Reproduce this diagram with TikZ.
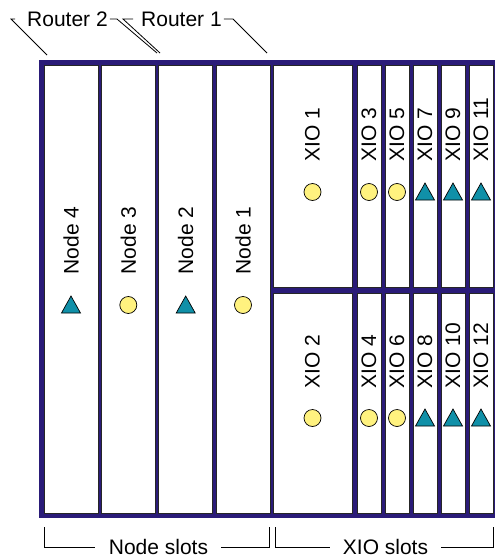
\documentclass[tikz,border=0pt]{standalone}
\usepackage{fontspec}
\setmainfont{Liberation Sans}
\definecolor{chassis}{HTML}{2A1B78}
\definecolor{dotfill}{HTML}{FFF27F}
\definecolor{tipfill}{HTML}{1090A8}
\newcommand{\slotcard}[7]{%
  \node[card, minimum width=#4pt, minimum height=#5pt] (#1) at (#2,#3) {};
  \node[cardtext] (#1txt) at (#2,#7) {#6};%
}
\newcommand{\dotmark}[2]{%
  \filldraw[fill=dotfill, draw=black, line width=0.7pt] (#1,#2) circle (8.5pt);%
}
\newcommand{\tipmark}[2]{%
  \filldraw[fill=tipfill, draw=black, line width=0.7pt] (#1,#2) ++(0,-9) -- ++(9.5,17) -- ++(-19,0) -- cycle;%
}

\begin{document}
\begin{tikzpicture}[x=1pt, y=-1pt, font=\fontsize{21}{24}\selectfont]
    \tikzset{card/.style={draw=black!85, fill=white, line width=0.9pt, inner sep=0pt},
      cardtext/.style={rotate=90, anchor=west, inner sep=0pt},
      lead/.style={draw=black, line width=0.8pt},
      tag/.style={inner sep=0pt}}
    \useasboundingbox (0,0) rectangle (495,560);

    \fill[chassis] (39,59.5) rectangle (498,517.5);

    % node slots
    \slotcard{node4}{71}{289}{54}{448}{Node 4}{274.5}
    \slotcard{node3}{128.3}{289}{54}{448}{Node 3}{274.5}
    \slotcard{node2}{185.7}{289}{54}{448}{Node 2}{274.5}
    \slotcard{node1}{243}{289}{54}{448}{Node 1}{274.5}
    \tipmark{71}{305}
    \dotmark{128.3}{305}
    \tipmark{185.7}{305}
    \dotmark{243}{305}

    % xio slots
    \slotcard{xio1}{312.5}{176}{79}{222}{XIO 1}{161.5}
    \slotcard{xio3}{369}{176}{24}{222}{XIO 3}{161.5}
    \slotcard{xio5}{397}{176}{24}{222}{XIO 5}{161.5}
    \slotcard{xio7}{425}{176}{24}{222}{XIO 7}{161.5}
    \slotcard{xio9}{453}{176}{24}{222}{XIO 9}{161.5}
    \slotcard{xio11}{481}{176}{24}{222}{XIO 11}{161.5}
    \slotcard{xio2}{312.5}{403}{79}{220}{XIO 2}{388.5}
    \slotcard{xio4}{369}{403}{24}{220}{XIO 4}{388.5}
    \slotcard{xio6}{397}{403}{24}{220}{XIO 6}{388.5}
    \slotcard{xio8}{425}{403}{24}{220}{XIO 8}{388.5}
    \slotcard{xio10}{453}{403}{24}{220}{XIO 10}{388.5}
    \slotcard{xio12}{481}{403}{24}{220}{XIO 12}{388.5}
    \dotmark{312.5}{192} \dotmark{369}{192} \dotmark{397}{192}
    \tipmark{425}{192} \tipmark{453}{192} \tipmark{481}{192}
    \dotmark{312.5}{418} \dotmark{369}{418} \dotmark{397}{418}
    \tipmark{425}{418} \tipmark{453}{418} \tipmark{481}{418}

    % routers
    \node[tag, anchor=west] (rtwo) at (27,19) {Router 2};
    \node[tag, anchor=west] (rone) at (141,19) {Router 1};
    \coordinate (r2l) at (47,55);
    \coordinate (r2r) at (157,53);
    \coordinate (r1l) at (160,53);
    \coordinate (r1r) at (267,53);
    \draw[lead] ([xshift=-12pt]rtwo.west) -- ([xshift=-16pt]rtwo.west) -- (r2l);
    \draw[lead] ([xshift=2pt]rtwo.east) -- ([xshift=9pt]rtwo.east) -- (r2r);
    \draw[lead] ([xshift=-8pt]rone.west) -- ([xshift=-18pt]rone.west) -- (r1l);
    \draw[lead] ([xshift=2pt]rone.east) -- ([xshift=11pt]rone.east) -- (r1r);

    % slot brackets
    \node[tag] (nslots) at (158.5,547) {Node slots};
    \node[tag] (xslots) at (385.5,547) {XIO slots};
    \coordinate (nsl) at (44,527);
    \coordinate (nsr) at (269,527);
    \coordinate (xsl) at (275,527);
    \coordinate (xsr) at (493,527);
    \draw[lead] ([xshift=-14pt]nslots.west) -| (nsl);
    \draw[lead] ([xshift=13pt]nslots.east) -| (nsr);
    \draw[lead] ([xshift=-13pt]xslots.west) -| (xsl);
    \draw[lead] ([xshift=13pt]xslots.east) -| (xsr);
\end{tikzpicture}
\end{document}
